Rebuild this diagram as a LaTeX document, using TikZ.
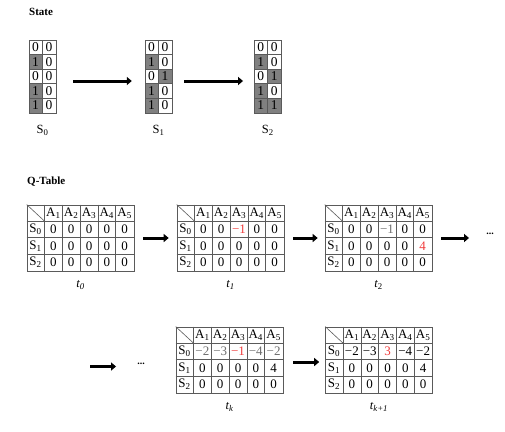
\documentclass[tikz,border=0pt]{standalone}
\usepackage{fontspec}
\setmainfont{Liberation Serif}
\usetikzlibrary{arrows.meta, positioning, calc}
\definecolor{cellgray}{RGB}{128, 128, 128}
\definecolor{gridline}{RGB}{90, 90, 90}
\definecolor{qred}{RGB}{240, 60, 60}
\definecolor{softtext}{RGB}{110, 110, 110}

% Q-table cell sizes (px)
\newcommand{\cw}{17.8}
\newcommand{\rh}{16.5}
\newcommand{\qred}[1]{\textcolor{qred}{#1}}
\newcommand{\qsoft}[1]{\textcolor{softtext}{#1}}

% state grid: name, centre, column 1, column 2
\newcommand{\stategrid}[4]{%
  \node[sframe] (#1) at (#2) {};
  \foreach \v [count=\r] in {#3} {%
    \ifnum\v=1 \def\cf{cellgray}\else\def\cf{white}\fi
    \node[scell=\cf] (#1-l\r) at ($(#1.north west)+(6.75,\r*14.6-7.3)$) {\v};
  }
  \foreach \v [count=\r] in {#4} {%
    \ifnum\v=1 \def\cf{cellgray}\else\def\cf{white}\fi
    \node[scell=\cf] (#1-r\r) at ($(#1.north west)+(20.25,\r*14.6-7.3)$) {\v};
  }
}

% q-table: name, centre, label, rows S0, S1, S2
\newcommand{\qtable}[6]{%
  \node[qframe] (#1) at (#2) {};
  \begin{scope}[shift={(#1.north west)}]
    \foreach \i in {1,...,5} \draw[qline] (\i*\cw,0) -- (\i*\cw,4*\rh);
    \foreach \j in {1,2,3} \draw[qline] (0,\j*\rh) -- (6*\cw,\j*\rh);
    \draw[qline] (0,0) -- (\cw,\rh);
    \foreach \a in {1,...,5}
      \node[qhead] (#1-a\a) at (\a*\cw+0.5*\cw,0.5*\rh) {A\textsubscript{\a}};
    \foreach \s in {0,1,2}
      \node[qhead] (#1-s\s) at (0.5*\cw,\s*\rh+1.5*\rh) {S\textsubscript{\s}};
    \foreach \v [count=\a] in {#4} \node[qcell] (#1-0\a) at (\a*\cw+0.5*\cw,1.5*\rh) {\v};
    \foreach \v [count=\a] in {#5} \node[qcell] (#1-1\a) at (\a*\cw+0.5*\cw,2.5*\rh) {\v};
    \foreach \v [count=\a] in {#6} \node[qcell] (#1-2\a) at (\a*\cw+0.5*\cw,3.5*\rh) {\v};
  \end{scope}
  \node[tlabel, below=9pt of #1] (#1-lab) {#3};
}

\begin{document}
\begin{tikzpicture}[
    x=1pt, y=-1pt,
    title/.style={font=\fontsize{11pt}{13pt}\selectfont\bfseries, anchor=west, inner sep=0pt},
    sframe/.style={rectangle, minimum width=27pt, minimum height=73pt, inner sep=0pt},
    scell/.style={rectangle, draw=gridline, fill=#1, minimum width=13.5pt, minimum height=14.6pt, inner sep=0pt, line width=0.6pt, font=\fontsize{13.5pt}{15pt}\selectfont},
    slabel/.style={font=\fontsize{12.5pt}{14pt}\selectfont, inner sep=0pt},
    qframe/.style={rectangle, draw=gridline, minimum width=106.8pt, minimum height=66pt, inner sep=0pt, line width=0.8pt},
    qline/.style={draw=gridline, line width=0.6pt},
    qhead/.style={font=\fontsize{13pt}{15pt}\selectfont, inner sep=0pt},
    qcell/.style={font=\fontsize{13pt}{15pt}\selectfont, inner sep=0pt},
    tlabel/.style={font=\fontsize{12.5pt}{14pt}\selectfont\itshape, inner sep=0pt},
    dots/.style={font=\fontsize{10pt}{12pt}\selectfont\bfseries, inner sep=1pt},
    arrow/.style={-{Triangle[length=5pt, width=8pt]}, line width=3pt, draw=black}
]
    \useasboundingbox (0,0) rectangle (505,431);

    % state part
    \node[title] (stitle) at (29,12) {State};
    \stategrid{s0}{42.5,76.5}{0,1,0,1,1}{0,0,0,0,0}
    \stategrid{s1}{158.5,76.5}{0,1,0,1,1}{0,0,1,0,0}
    \stategrid{s2}{267.75,76.5}{0,1,0,1,1}{0,0,1,0,1}
    \node[slabel, below=12pt of s0] (s0-lab) {S\textsubscript{0}};
    \node[slabel, below=12pt of s1] (s1-lab) {S\textsubscript{1}};
    \node[slabel, below=12pt of s2] (s2-lab) {S\textsubscript{2}};

    \draw[arrow, shorten <=17pt, shorten >=13pt] ([yshift=-4.5pt]s0.east) -- ([yshift=-4.5pt]s1.west);
    \draw[arrow, shorten <=12pt, shorten >=11pt] ([yshift=-4.5pt]s1.east) -- ([yshift=-4.5pt]s2.west);

    % q-table part
    \node[title] (qtitle) at (27,182) {Q-Table};
    \qtable{t0}{80.5,238}{t\textsubscript{0}}{0,0,0,0,0}{0,0,0,0,0}{0,0,0,0,0}
    \qtable{t1}{230.5,238}{t\textsubscript{1}}{0,0,\qred{−1},0,0}{0,0,0,0,0}{0,0,0,0,0}
    \qtable{t2}{378.5,238}{t\textsubscript{\upshape 2}}{0,0,\qsoft{−1},0,0}{0,0,0,0,\qred{4}}{0,0,0,0,0}
    \qtable{tk}{229.5,360}{t\textsubscript{k}}{\qsoft{−2},\qsoft{−3},\qred{−1},\qsoft{−4},\qsoft{−2}}{0,0,0,0,4}{0,0,0,0,0}
    \qtable{tk1}{379,360}{t\textsubscript{k+1}}{−2,−3,\qred{3},−4,−2}{0,0,0,0,4}{0,0,0,0,0}

    \node[dots] (dots1) at (490,234) {...};
    \node[dots] (dots2) at (141,364) {...};
    \coordinate (r3start) at (90,366.5);

    \draw[arrow, shorten <=9pt, shorten >=8pt] (t0.east) -- (t1.west);
    \draw[arrow, shorten <=9pt, shorten >=7pt] (t1.east) -- (t2.west);
    \draw[arrow, shorten <=9pt, shorten >=16pt] (t2.east) -- (t2.east -| dots1.west);
    \draw[arrow, shorten >=20pt] (r3start) -- (r3start -| dots2.west);
    \draw[arrow, shorten <=10pt, shorten >=6pt] ([yshift=-2pt]tk.east) -- ([yshift=-2pt]tk1.west);
\end{tikzpicture}
\end{document}
